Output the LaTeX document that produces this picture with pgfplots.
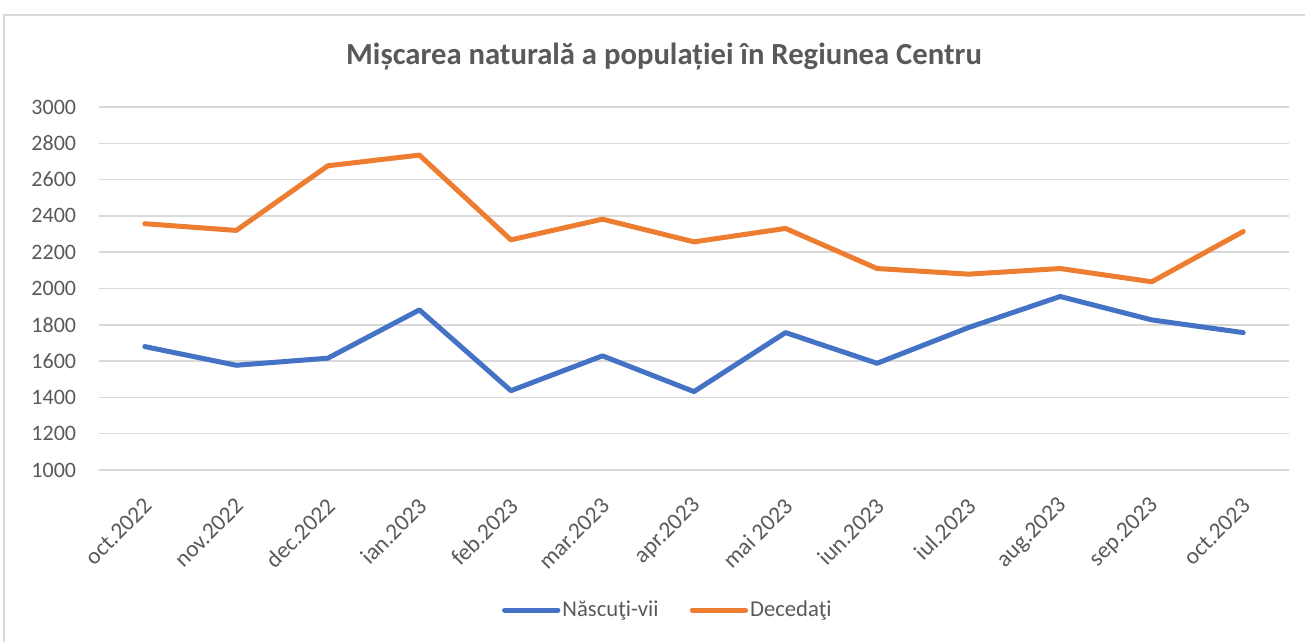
\documentclass[border=0pt]{standalone}
\usepackage{pgfplots}
\pgfplotsset{compat=1.18}
\usepackage{fontspec}
\setmainfont{Carlito}
\definecolor{cblue}{HTML}{4472C4}
\definecolor{corange}{HTML}{ED7D31}
\definecolor{cgrid}{HTML}{D9D9D9}
\definecolor{ctext}{HTML}{595959}
\begin{document}
\begin{tikzpicture}[x=0.75pt,y=0.75pt]
\path[use as bounding box] (0,0) rectangle (1305,642);
\draw[cgrid, line width=1.2pt] (4,0) -- (4,627) -- (1305,627);
\node[anchor=base, text=ctext, inner sep=0pt] at (664,577) {\fontsize{23}{28}\selectfont\bfseries Mișcarea naturală a populației în Regiunea Centru};
\begin{axis}[
  at={(74.25pt,129pt)}, anchor=south west,
  scale only axis, width=892.5pt, height=272.25pt,
  xmin=-0.5, xmax=12.5, ymin=1000, ymax=3000,
  ytick={1000,1200,...,3000},
  xtick={0,...,12},
  xticklabels={oct.2022,nov.2022,dec.2022,ian.2023,feb.2023,mar.2023,apr.2023,mai 2023,iun.2023,iul.2023,aug.2023,sep.2023,oct.2023},
  axis line style={draw=none},
  major tick length=0pt,
  ymajorgrids, grid style={cgrid, line width=1.1pt},
  /pgf/number format/assume math mode=true,
  /pgf/number format/1000 sep={},
  yticklabel style={font=\fontsize{16.5}{20}\selectfont, text=ctext, inner sep=0pt, anchor=east, xshift=-17pt},
  xticklabel style={font=\fontsize{17.5}{21}\selectfont, text=ctext, inner sep=0pt, rotate=45, anchor=east, xshift=-15.3pt, yshift=-18.6pt},
  legend columns=2,
  legend style={at={(0.478,-0.386)}, anchor=center, draw=none, fill=none,
    font=\fontsize{17}{20}\selectfont, text=ctext,
    /tikz/every even column/.append style={column sep=22pt},
    nodes={inner sep=1.5pt}},
  legend image code/.code={\draw[#1, line cap=round] (0pt,0pt) -- (40pt,0pt);},
  every axis plot/.append style={line width=3.75pt, line join=round, line cap=round},
]
\addplot[cblue] coordinates {(0,1680) (1,1577) (2,1616) (3,1882) (4,1437) (5,1629) (6,1432) (7,1757) (8,1588) (9,1785) (10,1956) (11,1827) (12,1757)};
\addlegendentry{Născuţi-vii}
\addplot[corange] coordinates {(0,2357) (1,2320) (2,2676) (3,2735) (4,2268) (5,2382) (6,2257) (7,2331) (8,2110) (9,2079) (10,2110) (11,2037) (12,2314)};
\addlegendentry{Decedaţi}
\end{axis}
\end{tikzpicture}
\end{document}
